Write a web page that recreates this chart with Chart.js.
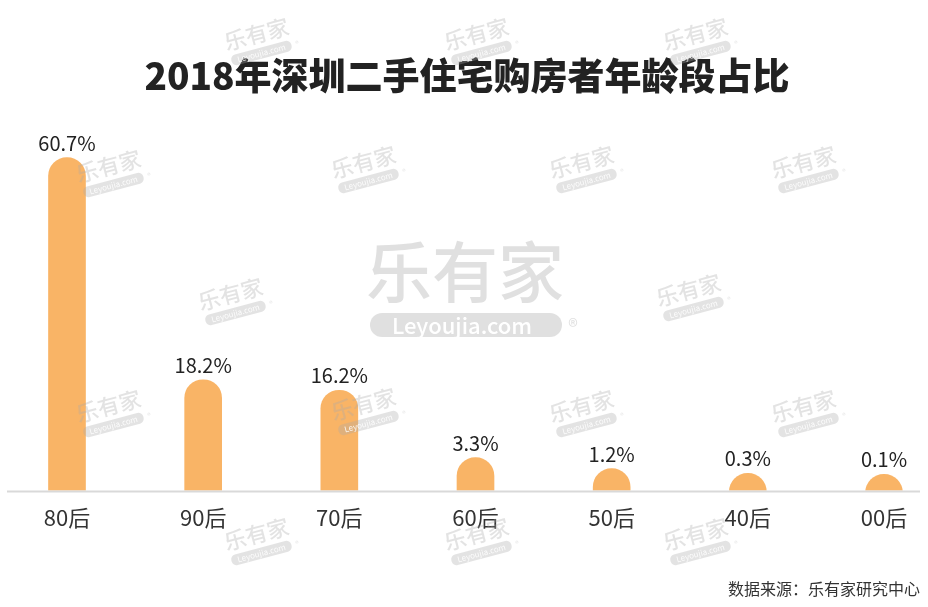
<!DOCTYPE html>
<html>
<head>
<meta charset="utf-8">
<script src="https://cdn.jsdelivr.net/npm/chart.js@4.4.0/dist/chart.umd.min.js"></script>
<style>
html,body{margin:0;padding:0;background:#fff;}
#wrap{width:928px;height:607px;position:relative;}
</style>
</head>
<body>
<div id="wrap"><canvas id="c" width="928" height="607"></canvas></div>
<script>
const categories = ["80后","90后","70后","60后","50后","40后","00后"];
const shares = [60.7, 18.2, 16.2, 3.3, 1.2, 0.3, 0.1];
const valueLabels = ["60.7%","18.2%","16.2%","3.3%","1.2%","0.3%","0.1%"];
const titleText = "2018年深圳二手住宅购房者年龄段占比";
const sourceText = "数据来源：乐有家研究中心";

const FONT = '"Noto Sans CJK SC", "Open Sans", sans-serif';

function smallMark(ctx, x, y) {
  ctx.save();
  ctx.translate(x, y);
  ctx.rotate(-0.26);
  ctx.fillStyle = 'rgba(170,170,170,0.33)';
  ctx.font = '500 22px ' + FONT;
  ctx.textAlign = 'center';
  ctx.textBaseline = 'middle';
  ctx.fillText('乐有家', 0, -6);
  ctx.beginPath();
  const w = 62, h = 11;
  if (ctx.roundRect) ctx.roundRect(-w/2, 8, w, h, 5); else ctx.rect(-w/2, 8, w, h);
  ctx.fill();
  ctx.fillStyle = 'rgba(255,255,255,0.9)';
  ctx.font = '8px ' + FONT;
  ctx.fillText('Leyoujia.com', 0, 13.5);
  ctx.fillStyle = 'rgba(170,170,170,0.33)';
  ctx.font = '7px ' + FONT;
  ctx.fillText('®', w/2 + 6, 13.5);
  ctx.restore();
}

const decor = {
  id: 'decor',
  beforeDraw(chart) {
    const ctx = chart.ctx;
    ctx.save();
    ctx.fillStyle = '#fff';
    ctx.fillRect(0, 0, chart.width, chart.height);
    ctx.restore();
  },
  afterDatasetsDraw(chart) {
    const ctx = chart.ctx;
    const meta = chart.getDatasetMeta(0);
    const yb = chart.chartArea.bottom;
    ctx.save();
    ctx.strokeStyle = '#d9d9d9';
    ctx.lineWidth = 2;
    ctx.beginPath();
    ctx.moveTo(7, yb + 1);
    ctx.lineTo(920, yb + 1);
    ctx.stroke();
    ctx.fillStyle = '#222';
    ctx.font = '20px ' + FONT;
    ctx.textAlign = 'center';
    ctx.textBaseline = 'alphabetic';
    meta.data.forEach((bar, i) => {
      ctx.fillText(valueLabels[i], bar.x, bar.y - 7);
    });
    ctx.restore();
  },
  afterDraw(chart) {
    const ctx = chart.ctx;
    ctx.save();
    ctx.fillStyle = '#222';
    ctx.font = '900 37px ' + FONT;
    ctx.textAlign = 'center';
    ctx.textBaseline = 'middle';
    ctx.fillText(titleText, 467, 76);
    ctx.fillStyle = '#333';
    ctx.font = '16px ' + FONT;
    ctx.textAlign = 'right';
    ctx.fillText(sourceText, 920, 589);
    // big central watermark
    ctx.fillStyle = 'rgba(180,180,180,0.42)';
    ctx.font = '500 66px ' + FONT;
    ctx.textAlign = 'center';
    ctx.fillText('乐有家', 465, 272);
    ctx.beginPath();
    if (ctx.roundRect) ctx.roundRect(370, 313, 192, 24, 12); else ctx.rect(370, 313, 192, 24);
    ctx.fill();
    ctx.fillStyle = '#fff';
    ctx.font = '500 22px ' + FONT;
    ctx.fillText('Leyoujia.com', 462, 326);
    ctx.fillStyle = 'rgba(180,180,180,0.42)';
    ctx.font = '20px ' + FONT;
    ctx.fillText('®', 573, 326);
    [[258,40],[478,40],[697,40],[110,172],[365,168],[583,168],[805,168],
     [232,300],[690,296],[110,412],[365,410],[583,412],[805,412],
     [258,540],[478,540],[697,540]].forEach(p => smallMark(ctx, p[0], p[1]));
    ctx.restore();
  }
};

new Chart(document.getElementById('c'), {
  type: 'bar',
  data: {
    labels: categories,
    datasets: [{
      data: shares,
      backgroundColor: '#F9B466',
      borderRadius: {topLeft: 19, topRight: 19, bottomLeft: 0, bottomRight: 0},
      borderSkipped: 'bottom',
      barThickness: 37,
      base: -20,
      clip: {left: false, right: false, top: false, bottom: 0}
    }]
  },
  options: {
    responsive: false,
    animation: false,
    devicePixelRatio: 1,
    layout: { padding: { left: 67, right: 44, top: 109, bottom: 62 } },
    plugins: { legend: { display: false }, tooltip: { enabled: false }, title: { display: false } },
    scales: {
      x: {
        offset: false,
        grid: { display: false, drawTicks: false },
        border: { display: false },
        ticks: { color: '#333', font: { size: 22, family: FONT }, padding: 14, maxRotation: 0, autoSkip: false }
      },
      y: {
        display: false,
        min: -3,
        max: 70
      }
    }
  },
  plugins: [decor]
});
</script>
</body>
</html>
